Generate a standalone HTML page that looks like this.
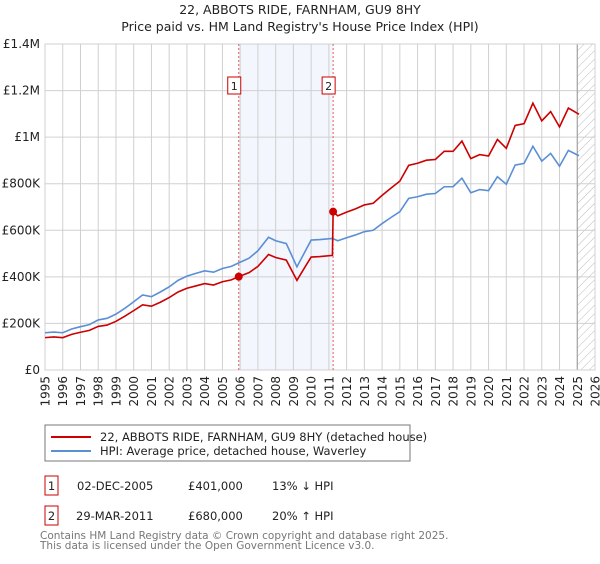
<!DOCTYPE html>
<html><head><meta charset="utf-8"><style>
body{margin:0;background:#fff;font-family:"DejaVu Sans","Liberation Sans",sans-serif;}
svg text{font-family:"DejaVu Sans","Liberation Sans",sans-serif;}
</style></head><body>
<svg id="c" width="600" height="560" xmlns="http://www.w3.org/2000/svg">
<defs><pattern id="hatch" width="6" height="6" patternUnits="userSpaceOnUse" patternTransform="rotate(45)"><line x1="0" y1="0" x2="0" y2="6" stroke="#bbb" stroke-width="1"/></pattern></defs>
<text x="300" y="14" text-anchor="middle" font-size="12.5" fill="#222">22, ABBOTS RIDE, FARNHAM, GU9 8HY</text>
<text x="300" y="31" text-anchor="middle" font-size="12.5" fill="#222">Price paid vs. HM Land Registry's House Price Index (HPI)</text>
<g id="plot"></g>
<rect x="45" y="425" width="365" height="36" fill="#fff" stroke="#777"/>
<line x1="51" y1="437" x2="91" y2="437" stroke="#cc0000" stroke-width="2"/>
<text x="100" y="441" font-size="11.5" fill="#222">22, ABBOTS RIDE, FARNHAM, GU9 8HY (detached house)</text>
<line x1="51" y1="451" x2="91" y2="451" stroke="#5b8fd4" stroke-width="2"/>
<text x="100" y="455" font-size="11.5" fill="#222">HPI: Average price, detached house, Waverley</text>
<g>
<rect x="45" y="476" width="13" height="19" fill="#fff" stroke="#cc0000"/><text x="51.5" y="490" text-anchor="middle" font-size="11.5" fill="#222">1</text>
<text x="77" y="490" font-size="11.5" fill="#222">02-DEC-2005</text>
<text x="188" y="490" font-size="11.5" fill="#222">£401,000</text>
<text x="272" y="490" font-size="11.5" fill="#222">13% ↓ HPI</text></g>
<g>
<rect x="45" y="506" width="13" height="19" fill="#fff" stroke="#cc0000"/><text x="51.5" y="520" text-anchor="middle" font-size="11.5" fill="#222">2</text>
<text x="76" y="520" font-size="11.5" fill="#222">29-MAR-2011</text>
<text x="188" y="520" font-size="11.5" fill="#222">£680,000</text>
<text x="272" y="520" font-size="11.5" fill="#222">20% ↑ HPI</text></g>
<text x="40" y="539" font-size="10.5" fill="#777">Contains HM Land Registry data © Crown copyright and database right 2025.</text>
<text x="40" y="549" font-size="10.5" fill="#777">This data is licensed under the Open Government Licence v3.0.</text>
</svg>
<script>
const hpiDates=[1995,1995.5,1996,1996.5,1997,1997.5,1998,1998.5,1999,1999.5,2000,2000.5,2001,2001.5,2002,2002.5,2003,2003.5,2004,2004.5,2005,2005.5,2005.92,2006.5,2007,2007.6,2008,2008.6,2009.2,2009.7,2010,2010.5,2011.2,2011.5,2012,2012.5,2013,2013.5,2014,2014.5,2015,2015.5,2016,2016.5,2017,2017.5,2018,2018.5,2019,2019.5,2020,2020.5,2021,2021.5,2022,2022.5,2023,2023.5,2024,2024.5,2025.1];
const hpiValues=[160,163,160,176,186,195,215,222,240,265,293,322,315,335,357,385,403,415,426,420,436,445,460,480,512,570,555,543,443,515,558,560,565,555,568,580,594,600,629,655,680,737,744,755,758,787,787,824,761,775,770,830,798,880,887,961,897,930,875,943,920];
const propDates=[1995,1995.5,1996,1996.5,1997,1997.5,1998,1998.5,1999,1999.5,2000,2000.5,2001,2001.5,2002,2002.5,2003,2003.5,2004,2004.5,2005,2005.5,2005.92,2006.5,2007,2007.6,2008,2008.6,2009.2,2009.7,2010,2010.5,2011.2,2011.24,2011.5,2012,2012.5,2013,2013.5,2014,2014.5,2015,2015.5,2016,2016.5,2017,2017.5,2018,2018.5,2019,2019.5,2020,2020.5,2021,2021.5,2022,2022.5,2023,2023.5,2024,2024.5,2025.1];
const propValues=[139,142,139,153,162,170,187,193,209,231,255,280,274,291,311,335,351,361,371,365,379,387,401,418,445,496,483,472,385,448,485,487,492,680,662,678,692,709,716,750,781,811,879,888,901,904,939,939,983,908,925,919,990,952,1050,1058,1146,1070,1110,1044,1125,1098];
const saleDates=[2005.92,2011.24];
const saleValues=[401,680];
const saleLabels=["1","2"];
const yTicks=[0,200,400,600,800,1000,1200,1400];
const yTickLabels=["£0","£200K","£400K","£600K","£800K","£1M","£1.2M","£1.4M"];
const xYears=[1995,1996,1997,1998,1999,2000,2001,2002,2003,2004,2005,2006,2007,2008,2009,2010,2011,2012,2013,2014,2015,2016,2017,2018,2019,2020,2021,2022,2023,2024,2025,2026];

const L=45,R=595,T=44,B=370,NS="http://www.w3.org/2000/svg";
const x=t=>L+(t-1995)/(2026-1995)*(R-L);
const y=v=>B-v/1400*(B-T);
const g=document.getElementById('plot');
function mk(tag,attrs){const e=document.createElementNS(NS,tag);for(const k in attrs)e.setAttribute(k,attrs[k]);g.appendChild(e);return e;}
let e;
e=mk('rect',{x:L,y:T,width:R-L,height:B-T,fill:'#fff'});


e=mk('rect',{x:x(saleDates[0]),y:T,width:x(saleDates[1])-x(saleDates[0]),height:B-T,fill:'#f3f6fd'});


e=mk('rect',{x:x(2025),y:T,width:R-x(2025),height:B-T,fill:'url(#hatch)'});


xYears.forEach(yr=>{
 e=mk('line',{x1:x(yr),x2:x(yr),y1:T,y2:B,stroke:'#d0d0d0'});
 
 
 e=mk('text',{x:0,y:0,transform:`translate(${x(yr)+4.5},376) rotate(-90)`,'text-anchor':'end','font-size':'12',fill:'#222'});
 e.textContent=yr;
 
 
});
yTicks.forEach((v,i)=>{
 e=mk('line',{x1:L,x2:R,y1:y(v),y2:y(v),stroke:'#d0d0d0'});
 
 
 e=mk('text',{x:40,y:y(v)+4,'text-anchor':'end','font-size':'12',fill:'#222'});
 e.textContent=yTickLabels[i];
 
 
});
e=mk('line',{x1:x(2025),x2:x(2025),y1:T,y2:B,stroke:'#999'});


e=mk('rect',{x:L,y:T,width:R-L,height:B-T,fill:'none',stroke:'#d0d0d0'});


saleDates.forEach((d,i)=>{
 e=mk('line',{x1:x(d),x2:x(d),y1:T,y2:B,stroke:'#e06060','stroke-dasharray':'2,2'});
 
 
});
e=mk('polyline',{points:hpiDates.map((d,i)=>x(d)+','+y(hpiValues[i])).join(' '),fill:'none',stroke:'#5b8fd4','stroke-width':1.6});


e=mk('polyline',{points:propDates.map((d,i)=>x(d)+','+y(propValues[i])).join(' '),fill:'none',stroke:'#cc0000','stroke-width':1.6});


saleDates.forEach((d,i)=>{
 e=mk('circle',{cx:x(d),cy:y(saleValues[i]),r:4,fill:'#cc0000'});
 
 
 e=mk('rect',{x:x(d)-11,y:77,width:13,height:17,fill:'#fff',stroke:'#cc0000'});
 
 
 e=mk('text',{x:x(d)-4.5,y:90,'text-anchor':'middle','font-size':'11',fill:'#222'});
 e.textContent=saleLabels[i];
 
 
});
</script>
</body></html>
